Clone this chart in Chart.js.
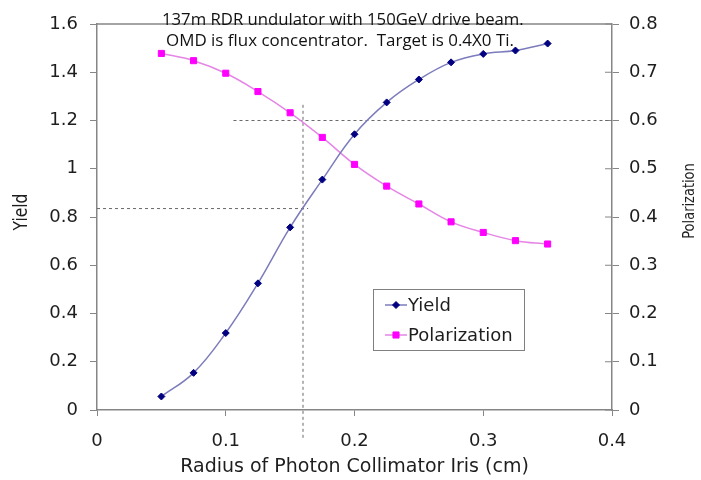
<!DOCTYPE html>
<html><head><meta charset="utf-8">
<script src="https://cdn.jsdelivr.net/npm/chart.js@4.4.1/dist/chart.umd.min.js"></script>
<style>html,body{margin:0;padding:0;background:#fff}#wrap{width:701px;height:480px}</style>
</head><body><div id="wrap"><canvas id="c" width="701" height="480"></canvas></div>
<script>
// ---- data ----
const radius = [0.05, 0.075, 0.1, 0.125, 0.15, 0.175, 0.2, 0.225, 0.25, 0.275, 0.3, 0.325, 0.35];
const yieldVals = [0.056, 0.154, 0.319, 0.525, 0.757, 0.955, 1.143, 1.275, 1.370, 1.441, 1.476, 1.490, 1.519];
const polVals = [0.739, 0.724, 0.698, 0.660, 0.616, 0.565, 0.509, 0.464, 0.427, 0.390, 0.368, 0.351, 0.344];
const seriesNames = ["Yield", "Polarization"];
const titleLines = ["137m RDR undulator with 150GeV drive beam.", "OMD is flux concentrator.  Target is 0.4X0 Ti."];
const xTitle = "Radius of Photon Collimator Iris (cm)";
const yTitle = "Yield";
const y2Title = "Polarization";
// reference (dashed) guide values
const refRadius = 0.16;
const refRadiusTopYield = 1.265;
const refYield = 0.835;
const refYieldToRadius = 0.164;
const refPol = 0.6;
const refPolFromRadius = 0.106;

const AX = '#868686';
const TXT = '#1e1e1e';
const FONT = 'DejaVu Sans';
const fmt = v => String(+Number(v).toFixed(2));

const frameAndGuides = {
  id: 'frameAndGuides',
  beforeDatasetsDraw(chart) {
    const {ctx, chartArea: a, scales: {x, y, y2}} = chart;
    ctx.save();
    ctx.strokeStyle = AX; ctx.lineWidth = 1.5;
    ctx.beginPath(); ctx.moveTo(a.left, a.top); ctx.lineTo(a.right, a.top); ctx.stroke();
    ctx.lineWidth = 1;
    y2.ticks.forEach(t => {
      const py = y2.getPixelForValue(t.value);
      ctx.beginPath(); ctx.moveTo(a.right - 7, py); ctx.lineTo(a.right, py); ctx.stroke();
    });
    ctx.strokeStyle = '#6a6a6a'; ctx.lineWidth = 1; ctx.setLineDash([3, 3]);
    const vx = x.getPixelForValue(refRadius);
    ctx.beginPath(); ctx.moveTo(vx, y.getPixelForValue(refRadiusTopYield)); ctx.lineTo(vx, a.bottom + 28); ctx.stroke();
    const hy = y.getPixelForValue(refYield);
    ctx.beginPath(); ctx.moveTo(x.getPixelForValue(0), hy); ctx.lineTo(x.getPixelForValue(refYieldToRadius), hy); ctx.stroke();
    const py = y2.getPixelForValue(refPol);
    ctx.beginPath(); ctx.moveTo(x.getPixelForValue(refPolFromRadius), py); ctx.lineTo(a.right, py); ctx.stroke();
    ctx.restore();
  },
  afterDraw(chart) {
    const {ctx, chartArea: a} = chart;
    ctx.save();
    // title text box
    const targets = [[162, 25, 362], [166, 46, 348]];
    ctx.fillStyle = '#111'; ctx.textBaseline = 'alphabetic'; ctx.textAlign = 'left';
    titleLines.forEach((s, i) => {
      const [tx, ty, tw] = targets[i];
      ctx.font = '15px "Open Sans"';
      const w = ctx.measureText(s).width;
      const fs = 15 * tw / w;
      ctx.font = fs.toFixed(2) + 'px "Open Sans"';
      ctx.fillText(s, tx, ty);
    });
    // axis titles
    ctx.fillStyle = TXT; ctx.textAlign = 'center'; ctx.textBaseline = 'middle';
    ctx.font = '19px ' + FONT;
    ctx.fillText(xTitle, (a.left + a.right) / 2, 467);
    ctx.save();
    ctx.translate(22, 212); ctx.scale(1.25, 1); ctx.rotate(-Math.PI / 2);
    ctx.font = '15.5px ' + FONT; ctx.fillText(yTitle, 0, 0);
    ctx.restore();
    ctx.save();
    ctx.translate(690, 201); ctx.scale(1.25, 1); ctx.rotate(-Math.PI / 2);
    ctx.font = '13px ' + FONT; ctx.fillText(y2Title, 0, 0);
    ctx.restore();
    // legend
    const bx = 373, by = 289, bw = 151, bh = 61;
    ctx.fillStyle = '#fff'; ctx.fillRect(bx, by, bw, bh);
    ctx.strokeStyle = '#808080'; ctx.lineWidth = 1; ctx.strokeRect(bx + 0.5, by + 0.5, bw, bh);
    const rows = [by + 16, by + 46];
    ctx.textAlign = 'left';
    chart.data.datasets.forEach((ds, i) => {
      const ry = rows[i];
      ctx.strokeStyle = ds.borderColor; ctx.lineWidth = 1.5;
      ctx.beginPath(); ctx.moveTo(385, ry); ctx.lineTo(407, ry); ctx.stroke();
      ctx.fillStyle = ds.pointBackgroundColor; ctx.strokeStyle = ds.pointBorderColor; ctx.lineWidth = 1;
      Chart.helpers.drawPoint(ctx, {pointStyle: ds.pointStyle, radius: ds.pointRadius, borderWidth: 1}, 396, ry);
      ctx.fillStyle = TXT; ctx.font = '18px ' + FONT; ctx.textBaseline = 'middle';
      ctx.fillText(ds.label, 408, ry + 1);
    });
    ctx.restore();
  }
};

const tickFont = {family: FONT, size: 18};

new Chart(document.getElementById('c'), {
  type: 'line',
  data: {
    datasets: [
      {
        label: seriesNames[0], yAxisID: 'y',
        data: radius.map((r, i) => ({x: r, y: yieldVals[i]})),
        borderColor: '#7c7cbc', borderWidth: 1.5, tension: 0.4,
        pointStyle: 'rectRot', pointRadius: 3.5,
        pointBackgroundColor: '#000080', pointBorderColor: '#000080', pointBorderWidth: 1
      },
      {
        label: seriesNames[1], yAxisID: 'y2',
        data: radius.map((r, i) => ({x: r, y: polVals[i]})),
        borderColor: '#e585e5', borderWidth: 1.5, tension: 0.4,
        pointStyle: 'rect', pointRadius: 4.3,
        pointBackgroundColor: '#ff00ff', pointBorderColor: '#ff00ff', pointBorderWidth: 1
      }
    ]
  },
  options: {
    responsive: false, animation: false, devicePixelRatio: 1,
    layout: {padding: {top: 24, left: 0, right: 0, bottom: 0}},
    plugins: {legend: {display: false}, tooltip: {enabled: false}, title: {display: false}},
    scales: {
      x: {
        type: 'linear', position: 'bottom', min: 0, max: 0.4,
        ticks: {stepSize: 0.1, font: tickFont, color: TXT, padding: 15, maxRotation: 0, callback: fmt},
        grid: {drawOnChartArea: false, drawTicks: true, tickLength: 6, color: AX},
        border: {color: AX, width: 1.5},
        title: {display: false},
        afterFit(s) { s.height = 70; }
      },
      y: {
        type: 'linear', position: 'left', min: 0, max: 1.6,
        ticks: {stepSize: 0.2, font: tickFont, color: TXT, padding: 12, callback: fmt},
        grid: {drawOnChartArea: false, drawTicks: true, tickLength: 7, color: AX},
        border: {color: AX, width: 1.5},
        title: {display: false},
        afterFit(s) { s.width = 97; }
      },
      y2: {
        type: 'linear', position: 'right', min: 0, max: 0.8,
        ticks: {stepSize: 0.1, font: tickFont, color: TXT, padding: 10, callback: fmt},
        grid: {drawOnChartArea: false, drawTicks: true, tickLength: 7, color: AX},
        border: {color: AX, width: 1.5},
        title: {display: false},
        afterFit(s) { s.width = 89; }
      }
    }
  },
  plugins: [frameAndGuides]
});
</script></body></html>
